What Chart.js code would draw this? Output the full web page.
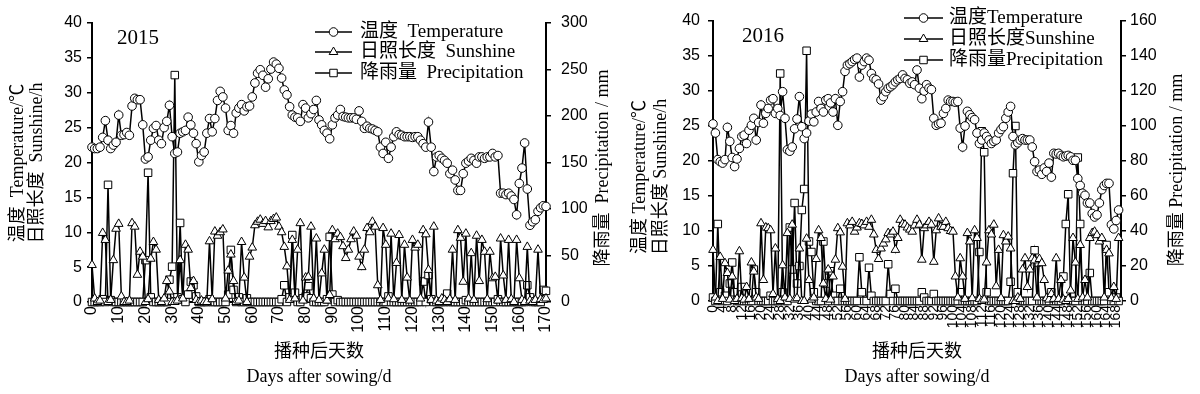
<!DOCTYPE html>
<html><head><meta charset="utf-8">
<script src="https://cdn.jsdelivr.net/npm/chart.js@4"></script>
<style>
body{margin:0;background:#fff;width:1200px;height:394px;overflow:hidden;position:relative}
.wrap{position:absolute;top:0;height:394px}
</style>
</head><body>
<div class="wrap" style="left:0;width:640px"><canvas id="c1" width="640" height="394"></canvas></div>
<div class="wrap" style="left:600px;width:600px"><canvas id="c2" width="600" height="394"></canvas></div>
<script>
// ---------- 2015 ----------
const temp2015 = [22.2,22.0,22.0,22.2,23.6,26.0,23.2,22.0,22.5,22.9,
 26.8,23.9,24.0,24.3,23.9,28.1,29.2,29.0,29.0,25.4,
 20.5,20.8,23.2,24.9,25.3,23.2,22.7,25.0,25.9,28.2,
 23.7,21.3,21.5,24.2,24.4,24.6,26.5,25.4,24.2,22.7,
 20.1,21.0,21.5,24.2,26.3,24.4,26.3,28.9,30.2,29.4,
 27.8,24.6,25.3,24.2,27.1,27.8,28.3,27.4,28.0,28.1,
 29.4,31.4,32.8,33.3,32.5,30.8,32.0,33.4,34.4,34.1,
 33.5,32.1,30.4,29.7,28.0,26.8,26.5,26.4,25.9,28.3,
 27.8,26.4,27.0,27.6,28.9,26.1,25.4,24.6,24.2,23.4,
 25.4,26.4,26.8,27.6,26.6,26.5,26.4,26.4,26.4,26.2,
 27.4,25.9,24.9,25.2,24.9,24.8,24.6,24.4,22.2,21.3,
 22.9,20.6,22.2,23.7,24.4,24.0,23.9,23.7,23.7,23.7,
 23.6,23.7,23.7,23.2,22.7,22.2,25.8,22.2,18.7,20.8,
 21.0,20.6,20.3,19.9,18.4,18.9,17.5,16.0,16.0,18.4,
 19.9,20.2,20.6,20.3,19.9,20.8,20.8,20.6,20.8,20.8,
 21.3,20.8,21.0,15.6,15.6,15.4,15.6,15.2,14.7,12.5,
 17.0,19.2,22.8,16.2,11.0,11.5,11.8,13.0,13.5,13.8,
 13.7];
const sun2015 = [5.3,0.5,0,0.2,9.9,8.9,0,0.3,6.0,10.5,
 11.2,0.8,0,0,0.2,11.3,10.8,3.9,7.2,6.5,
 0,0.4,6.2,8.6,7.5,0.3,0,0.5,3.0,1.5,
 0,0,0.2,6.0,0.5,8.2,7.5,2.0,3.0,0.3,
 0,0.2,0,0,8.7,0.4,10.1,9.5,10.0,10.4,
 0.5,4.5,6.8,3.0,0,0.2,8.6,3.5,0,6.5,
 7.8,11.0,11.5,11.8,11.2,11.6,10.7,11.6,11.9,12.1,
 10.8,10.0,7.9,5.1,0.3,8.9,0.5,7.5,11.3,0.2,
 3.5,3.6,10.8,0.5,9.1,0.3,4.1,7.5,0.2,1.0,
 10.3,9.0,9.8,9.3,8.0,6.3,7.5,9.0,10.1,9.5,
 6.5,5.0,7.5,10.6,10.0,11.5,10.8,2.4,0.3,10.6,
 8.2,0.5,9.8,0.4,5.6,9.6,0.3,8.2,3.5,0.2,
 8.9,7.8,8.2,0.5,10.3,9.7,4.6,0.3,10.8,0.2,
 0,0.5,0.3,0,0.4,7.5,0.3,10.3,9.2,2.9,
 9.8,0.5,7.0,0.3,9.5,3.0,8.9,7.2,0.4,7.2,
 3.4,3.6,0.2,9.1,3.8,0.3,8.9,0.4,0,8.9,
 3.4,0.3,0,7.9,0.2,0,0.3,7.5,0.4,0.3,
 0.5];
const rain2015 = [0,0,0,0,3,0,126,2,0,0,
 0,0,0,0,0,0,0,0,0,0,
 45,139,5,0,0,0,0,0,0,24,
 38,244,5,85,3,0,8,22,18,6,
 0,0,0,0,3,0,0,0,0,0,
 0,8,56,13,0,5,0,0,4,0,
 0,0,0,0,0,0,0,0,0,0,
 0,3,18,0,5,72,10,0,0,4,
 6,17,4,0,0,0,0,0,3,70,
 8,0,2,0,0,0,0,0,0,0,
 0,0,0,0,0,0,0,0,0,0,
 0,6,0,0,0,0,0,0,0,0,
 0,0,0,0,22,0,29,3,0,0,
 0,0,0,9,0,0,0,0,0,0,
 2,0,0,0,0,0,0,0,0,0,
 0,0,3,0,0,0,0,0,0,0,
 0,0,0,18,5,0,0,0,0,13,
 12];
const xTicks2015 = [0,10,20,30,40,50,60,70,80,90,100,110,120,130,140,150,160,170];
const leftTicks = [0,5,10,15,20,25,30,35,40];
const rightTicks2015 = [0,50,100,150,200,250,300];

// ---------- 2016 ----------
const temp2016 = [25.3,24.0,20.2,19.9,19.7,20.2,24.8,22.8,20.5,19.2,
 20.3,21.8,23.5,23.7,22.5,24.4,25.1,26.1,23.0,25.5,
 28.0,25.4,26.8,27.5,28.7,28.9,26.8,27.5,26.5,29.9,
 26.1,21.6,21.4,22.0,24.6,26.0,29.2,24.9,23.2,24.0,
 25.7,26.7,25.6,27.0,28.5,27.5,27.0,28.7,28.9,28.3,
 27.0,28.9,25.1,28.5,29.9,32.8,33.7,33.9,34.2,34.5,
 34.7,32.0,33.7,34.2,34.7,34.4,32.5,31.8,31.6,31.0,
 28.7,29.2,29.9,30.4,30.6,30.9,31.3,31.6,31.8,32.3,
 31.8,31.6,31.1,31.3,30.9,33.0,30.4,28.9,30.0,30.9,
 30.4,30.2,26.1,25.1,25.3,25.4,26.8,27.5,28.7,28.5,
 28.5,28.4,28.5,24.7,22.0,25.0,27.1,26.6,26.2,25.9,
 24.0,22.5,23.0,24.0,23.5,23.0,22.5,22.8,23.0,24.0,
 24.5,24.9,26.1,27.0,27.8,23.5,22.3,22.6,23.0,23.2,
 23.0,23.0,23.0,22.0,19.9,18.5,18.7,18.1,19.0,18.5,
 19.7,17.7,21.1,21.0,21.1,20.8,20.6,20.7,20.8,20.6,
 20.1,20.1,17.5,16.5,15.4,15.1,14.0,14.0,12.5,12.0,
 12.3,14.0,15.9,16.5,16.8,16.8,10.9,10.3,11.5,13.0];
const sun2016 = [7.3,0.5,0,6.3,0.3,5.4,4.0,0.2,3.5,0,
 0.3,7.1,0.4,0.2,2.0,0.3,5.5,4.2,0.5,0.3,
 11.1,3.0,10.5,10.4,10.1,1.0,7.5,0.3,0,5.1,
 0.5,9.7,0.3,10.9,0.2,0.4,7.5,0,0,8.9,
 3.0,0.2,0.5,6.0,10.1,9.0,2.5,0.3,4.5,0.2,
 3.5,5.9,10.4,9.8,4.9,0.3,11.1,10.8,11.3,9.9,
 10.5,11.1,11.0,10.8,11.3,10.6,11.6,9.5,7.3,6.0,
 7.5,8.2,8.8,9.7,9.5,9.9,7.3,9.0,11.6,11.0,
 10.9,10.5,10.2,9.9,10.8,11.6,10.9,5.9,10.4,10.8,
 11.3,10.9,5.6,10.1,11.8,10.6,10.6,11.3,10.4,10.0,
 9.9,3.5,0.5,6.1,3.5,0.3,9.7,8.5,0.4,10.1,
 9.0,0.3,0,0.2,5.5,10.1,9.5,10.9,2.1,7.3,
 0.4,9.4,8.5,9.2,7.5,0,0,0.5,0.3,4.5,
 6.1,2.0,4.5,6.1,5.8,0.5,6.0,5.4,3.0,0.4,
 0.2,1.0,0.3,6.1,0.3,3.0,0.2,0,0.3,1.5,
 9.0,5.5,0.3,8.0,0.5,3.0,0.5,9.0,9.7,9.9,
 9.4,8.5,9.0,0.5,7.3,6.8,0.4,2.0,0.3,9.0];
const rain2016 = [2,0,44,5,0,3,0,10,22,5,
 0,0,8,0,0,0,0,18,5,0,
 0,0,0,0,3,0,0,0,130,5,
 0,0,42,18,56,10,20,52,64,143,
 34,28,5,0,0,0,34,10,0,17,
 3,0,0,7,0,0,0,0,0,0,
 0,25,5,0,0,19,3,0,0,0,
 0,0,0,21,4,0,7,0,0,0,
 0,0,0,0,0,0,0,5,2,0,
 0,0,4,0,0,0,0,0,0,0,
 0,0,0,5,0,0,0,0,0,0,
 0,28,97,85,5,0,0,0,0,0,
 0,0,0,0,11,73,100,5,0,0,
 0,0,0,0,29,22,0,0,0,0,
 0,5,0,0,0,0,14,44,61,0,
 0,0,82,44,0,0,0,16,0,0,
 0,0,0,0,32,5,0,0,2,0];
const xTicks2016 = [0,4,8,12,16,20,24,28,32,36,40,44,48,52,56,60,64,68,72,76,80,84,88,92,96,100,104,108,112,116,120,124,128,132,136,140,144,148,152,156,160,164,168];
const rightTicks2016 = [0,20,40,60,80,100,120,140,160];

const SERIF = '"Liberation Serif", "Times New Roman", "Noto Sans CJK SC", serif';
const SANS = '"Liberation Sans", Arial, sans-serif';
Chart.defaults.color = '#000';

const markerStyles = [
  {style:'circle', r:4.3},
  {style:'triangle', r:5},
  {style:'rect', r:5.3}
];

function drawMarker(ctx, m, x, y){
  ctx.save();
  ctx.beginPath();
  if (m.style === 'circle') {
    ctx.arc(x, y, m.r, 0, Math.PI*2);
  } else if (m.style === 'triangle') {
    const r = m.r;
    ctx.moveTo(x, y - r);
    ctx.lineTo(x + r*Math.sin(Math.PI*2/3), y - r*Math.cos(Math.PI*2/3));
    ctx.lineTo(x - r*Math.sin(Math.PI*2/3), y - r*Math.cos(Math.PI*2/3));
    ctx.closePath();
  } else {
    const s = m.r*Math.SQRT1_2;
    ctx.rect(x - s, y - s, 2*s, 2*s);
  }
  ctx.fillStyle = '#fff'; ctx.fill();
  ctx.lineWidth = 1; ctx.strokeStyle = '#000'; ctx.stroke();
  ctx.restore();
}

function rotText(ctx, txt, x, y){
  ctx.save();
  ctx.translate(x, y);
  ctx.rotate(-Math.PI/2);
  ctx.textAlign = 'center';
  ctx.textBaseline = 'middle';
  ctx.fillText(txt, 0, 0);
  ctx.restore();
}

const textPlugin = {
  id: 'texts',
  afterDraw(chart, args, o) {
    const ctx = chart.ctx;
    ctx.save();
    ctx.fillStyle = '#000';
    ctx.textBaseline = 'middle';
    ctx.textAlign = 'left';
    ctx.font = '21px ' + SERIF;
    ctx.fillText(o.year, o.yearX, o.yearY);
    ctx.font = '19px ' + SERIF;
    o.legend.forEach((txt, i) => {
      const y = o.legY[i];
      ctx.beginPath();
      ctx.moveTo(o.legX1, y); ctx.lineTo(o.legX2, y);
      ctx.lineWidth = 1.5; ctx.strokeStyle = '#000'; ctx.stroke();
      drawMarker(ctx, markerStyles[i], (o.legX1 + o.legX2)/2, y);
      ctx.fillText(txt, o.legTX, y);
    });
    ctx.font = '18px ' + SERIF;
    rotText(ctx, o.left1, o.left1X, o.leftY);
    rotText(ctx, o.left2, o.left2X, o.leftY);
    rotText(ctx, o.right, o.rightX, o.rightY);
    const ca = chart.chartArea;
    const cx = (ca.left + ca.right)/2;
    ctx.textAlign = 'center';
    ctx.fillText('播种后天数', cx, o.xt1Y);
    ctx.fillText('Days after sowing/d', cx, o.xt2Y);
    ctx.restore();
  }
};

function makeChart(id, W, temp, sun, rain, xTicks, rTicks, lay, txt){
  const days = temp.map((_, i) => i);
  const ds = (label, data, m, axis) => ({
    label, data, yAxisID: axis,
    borderColor: '#000', borderWidth: 1.5, tension: 0,
    pointStyle: m.style, pointRadius: m.r, pointBorderWidth: 1,
    pointBackgroundColor: '#fff', pointBorderColor: '#000',
    clip: false
  });
  const yGrid = {drawOnChartArea:false, drawTicks:true, tickLength:5, color:'#000', lineWidth:1.5};
  return new Chart(document.getElementById(id), {
    type: 'line',
    data: {
      labels: days,
      datasets: [
        ds('温度 Temperature', temp, markerStyles[0], 'y'),
        ds('日照长度 Sunshine', sun, markerStyles[1], 'y'),
        ds('降雨量 Precipitation', rain, markerStyles[2], 'y2')
      ]
    },
    options: {
      responsive: false, animation: false,
      layout: {padding: {top: lay.T, left: 0, right: 0, bottom: 0}},
      plugins: {legend: {display:false}, tooltip: {enabled:false}, texts: txt},
      scales: {
        x: {
          type: 'linear', min: 0, max: 170,
          grid: {display:true, drawOnChartArea:false, drawTicks:false},
          border: {display:true, color:'#000', width:2},
          ticks: {minRotation:90, maxRotation:90, padding:4, autoSkip:false,
                  font:{family:SANS, size:lay.xfs}},
          afterBuildTicks: s => { s.ticks = xTicks.map(v => ({value:v})); },
          afterFit: s => { s.height = 394 - lay.B; }
        },
        y: {
          position: 'left', min: 0, max: 40,
          grid: yGrid,
          border: {display:true, color:'#000', width:2},
          ticks: {padding: lay.lp, font:{family:SANS, size:16}},
          afterBuildTicks: s => { s.ticks = leftTicks.map(v => ({value:v})); },
          afterFit: s => { s.width = lay.L; }
        },
        y2: {
          position: 'right', min: 0, max: rTicks[rTicks.length-1],
          grid: yGrid,
          border: {display:true, color:'#000', width:2},
          ticks: {padding: lay.rp, font:{family:SANS, size:16}},
          afterBuildTicks: s => { s.ticks = rTicks.map(v => ({value:v})); },
          afterFit: s => { s.width = W - lay.R; }
        }
      }
    },
    plugins: [textPlugin]
  });
}

makeChart('c1', 640, temp2015, sun2015, rain2015, xTicks2015, rightTicks2015,
  {L:92, R:546, T:23, B:302, lp:5, rp:10, xfs:16},
  {year:'2015', yearX:117, yearY:38,
   legend:['温度  Temperature','日照长度  Sunshine','降雨量  Precipitation'],
   legY:[32,52,73], legX1:315, legX2:352, legTX:360,
   left1:'温度  Temperature/℃', left2:'日照长度  Sunshine/h', left1X:18, left2X:37, leftY:163,
   right:'降雨量  Precipitation / mm', rightX:603, rightY:168,
   xt1Y:352, xt2Y:377});

makeChart('c2', 600, temp2016, sun2016, rain2016, xTicks2016, rightTicks2016,
  {L:113, R:521, T:21, B:301, lp:8, rp:4, xfs:14},
  {year:'2016', yearX:142, yearY:36,
   legend:['温度Temperature','日照长度Sunshine','降雨量Precipitation'],
   legY:[18,39,60], legX1:304, legX2:343, legTX:349,
   left1:'温度 Temperature/℃', left2:'日照长度 Sunshine/h', left1X:40, left2X:61, leftY:177,
   right:'降雨量 Precipitation / mm', rightX:577, rightY:170,
   xt1Y:352, xt2Y:377});
</script>
</body></html>
